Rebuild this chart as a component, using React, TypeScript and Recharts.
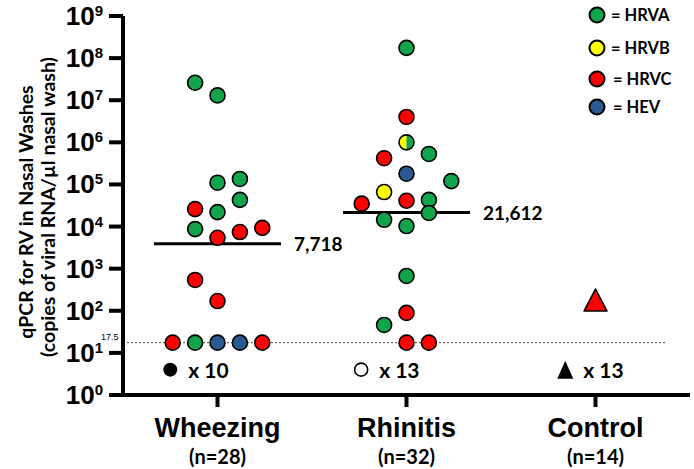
import {
  ReferenceLine,
  Scatter,
  ScatterChart,
  XAxis,
  YAxis,
} from "recharts";

const categories = ["Wheezing", "Rhinitis", "Control"];
const groupSizes = ["(n=28)", "(n=32)", "(n=14)"];

// A = HRVA, B = HRVB, C = HRVC, E = HEV, BA = half HRVB / half HRVA
const wheezingValues = [2.6e7, 1.3e7, 1.1e5, 1.35e5, 4.3e4, 2.6e4, 2.2e4, 8.7e3, 5.4e3, 7.4e3, 9.3e3, 540, 170, 17.5, 17.5, 17.5, 17.5, 17.5];
const wheezingTypes = ["A", "A", "A", "A", "A", "C", "A", "A", "C", "C", "C", "C", "C", "C", "A", "E", "E", "C"];
const wheezingSlots = [-1, 0, 0, 1, 1, -1, 0, -1, 0, 1, 2, -1, 0, -2, -1, 0, 1, 2];

const rhinitisValues = [1.75e8, 4e6, 1e6, 4.2e5, 5.3e5, 1.8e5, 1.2e5, 6.6e4, 3.5e4, 4.1e4, 4.3e4, 2.1e4, 1.45e4, 1.03e4, 670, 89, 46, 17.5, 17.5];
const rhinitisTypes = ["A", "C", "BA", "C", "A", "E", "A", "B", "C", "C", "A", "A", "A", "A", "A", "C", "A", "C", "C"];
const rhinitisSlots = [0, 0, 0, -1, 1, 0, 2, -1, -2, 0, 1, 1, -1, 0, 0, 0, -1, 0, 1];

const controlValues = [180];
const controlTypes = ["C"];
const controlSlots = [0];

const medianValues = [3900, 21612];
const medianLabels = ["7,718", "21,612"];

const undetectedCounts = ["x 10", "x 13", "x 13"];
const undetectedMarkers = ["dot", "ring", "triangle"];
const undetectedOffsets = [-0.25, -0.24, -0.16];
const undetectedLevel = 4;

const detectionLimit = 17.5;
const yTicks = [1, 1e1, 1e2, 1e3, 1e4, 1e5, 1e6, 1e7, 1e8, 1e9];

const legendNames = ["HRVA", "HRVB", "HRVC", "HEV"];
const COLORS: Record<string, string> = {
  A: "#10a54a",
  B: "#ffff00",
  C: "#ff0000",
  E: "#2b5a92",
};
const legendKeys = ["A", "B", "C", "E"];

const SLOT = 0.1185;
const ARIAL = "'Liberation Sans', Arial, sans-serif";
const CALIBRI = "Lato, 'Open Sans', sans-serif";

const toPoints = (group: number, values: number[], types: string[], slots: number[]) =>
  values.map((v, i) => ({ x: group + 0.5 + slots[i] * SLOT, y: v, type: types[i] }));

const points = [
  ...toPoints(0, wheezingValues, wheezingTypes, wheezingSlots),
  ...toPoints(1, rhinitisValues, rhinitisTypes, rhinitisSlots),
];
const controlPoints = toPoints(2, controlValues, controlTypes, controlSlots);

const undetected = undetectedCounts.map((label, i) => ({
  x: i + 0.5 + undetectedOffsets[i],
  y: undetectedLevel,
  label,
  marker: undetectedMarkers[i],
}));

const Dot = (props: any) => {
  const { cx, cy, payload } = props;
  const r = 7.5;
  if (payload.type === "BA") {
    return (
      <g>
        <path d={`M${cx},${cy - r} A${r},${r} 0 0 0 ${cx},${cy + r} Z`} fill={COLORS.B} />
        <path d={`M${cx},${cy - r} A${r},${r} 0 0 1 ${cx},${cy + r} Z`} fill={COLORS.A} />
        <circle cx={cx} cy={cy} r={r} fill="none" stroke="#000" strokeWidth={1.6} />
      </g>
    );
  }
  return <circle cx={cx} cy={cy} r={r} fill={COLORS[payload.type]} stroke="#000" strokeWidth={1.6} />;
};

const Triangle = (props: any) => {
  const { cx, cy, payload } = props;
  const w = 23;
  const h = 22;
  return (
    <polygon
      points={`${cx},${cy - h / 2} ${cx + w / 2},${cy + h / 2} ${cx - w / 2},${cy + h / 2}`}
      fill={COLORS[payload.type]}
      stroke="#000"
      strokeWidth={1.6}
      strokeLinejoin="round"
    />
  );
};

const UndetectedMark = (props: any) => {
  const { cx, cy, payload } = props;
  let mark;
  if (payload.marker === "dot") mark = <circle cx={cx} cy={cy} r={7} fill="#000" />;
  else if (payload.marker === "ring")
    mark = <circle cx={cx} cy={cy} r={6.5} fill="#fff" stroke="#000" strokeWidth={1.6} />;
  else mark = <polygon points={`${cx},${cy - 9} ${cx + 8},${cy + 9} ${cx - 8},${cy + 9}`} fill="#000" />;
  return (
    <g>
      {mark}
      <text x={cx + 18} y={cy} dominantBaseline="central" fontFamily={CALIBRI} fontWeight={700} fontSize={21} fill="#000">
        {payload.label}
      </text>
    </g>
  );
};

const YTick = (props: any) => {
  const { x, y, payload } = props;
  const exp = Math.round(Math.log10(payload.value));
  return (
    <text x={x - 4} y={y + 9} textAnchor="end" fontFamily={ARIAL} fontWeight={700} fontSize={26} fill="#000">
      <tspan>10</tspan>
      <tspan dy={-9} fontSize={15}>{exp}</tspan>
    </text>
  );
};

const XTick = (props: any) => {
  const { x, y, payload } = props;
  const i = Math.floor(payload.value);
  return (
    <g>
      <text x={x} y={y + 28} textAnchor="middle" fontFamily={ARIAL} fontWeight={700} fontSize={27} fill="#000">
        {categories[i]}
      </text>
      <text x={x} y={y + 55} textAnchor="middle" fontFamily={CALIBRI} fontWeight={700} fontSize={20} fill="#000">
        {groupSizes[i]}
      </text>
    </g>
  );
};

const titleStyle = {
  fontFamily: CALIBRI,
  fontWeight: 700,
  fontSize: 19.5,
  fill: "#000",
};

const YTitle = () => (
  <g>
    <text x={25} y={212} transform="rotate(-90 25 212)" textAnchor="middle" dominantBaseline="central" style={titleStyle}>
      qPCR for RV in Nasal Washes
    </text>
    <text x={47} y={207} transform="rotate(-90 47 207)" textAnchor="middle" dominantBaseline="central" style={titleStyle}>
      (copies of viral RNA/µl nasal wash)
    </text>
  </g>
);

const legendY = [15, 48, 79, 107];

export default function App() {
  return (
    <div style={{ position: "absolute", left: 0, top: 0, width: 694, height: 469, background: "#fff" }}>
      <ScatterChart width={694} height={469} margin={{ top: 16, right: 4, left: 0, bottom: 0 }}>
        <XAxis
          type="number"
          dataKey="x"
          domain={[0, 3]}
          ticks={[0.5, 1.5, 2.5]}
          tick={<XTick />}
          tickSize={12}
          height={74}
          axisLine={{ stroke: "#000", strokeWidth: 4 }}
          tickLine={{ stroke: "#000", strokeWidth: 4 }}
        />
        <YAxis
          type="number"
          dataKey="y"
          scale="log"
          domain={[1, 1e9]}
          ticks={yTicks}
          allowDataOverflow
          tick={<YTick />}
          tickSize={14}
          width={123}
          interval={0}
          axisLine={{ stroke: "#000", strokeWidth: 4 }}
          tickLine={{ stroke: "#000", strokeWidth: 4 }}
          label={<YTitle />}
        />
        <ReferenceLine
          segment={[
            { x: 0, y: detectionLimit },
            { x: 2.873, y: detectionLimit },
          ]}
          stroke="#444"
          strokeWidth={1}
          strokeDasharray="2 2"
          label={(p: any) => (
            <text x={p.viewBox.x - 22} y={p.viewBox.y - 3} fontFamily={ARIAL} fontSize={9} fill="#000">
              17.5
            </text>
          )}
        />
        {medianValues.map((m, i) => (
          <ReferenceLine
            key={`median-${i}`}
            segment={[
              { x: i + 0.5 - 0.336, y: m },
              { x: i + 0.5 + 0.336, y: m },
            ]}
            stroke="#000"
            strokeWidth={3}
            label={(p: any) => (
              <text
                x={p.viewBox.x + p.viewBox.width + 13}
                y={p.viewBox.y + p.viewBox.height / 2}
                dominantBaseline="central"
                fontFamily={CALIBRI}
                fontWeight={700}
                fontSize={19}
                fill="#000"
              >
                {medianLabels[i]}
              </text>
            )}
          />
        ))}
        <Scatter data={points} shape={<Dot />} isAnimationActive={false} />
        <Scatter data={controlPoints} shape={<Triangle />} isAnimationActive={false} />
        <Scatter data={undetected} shape={<UndetectedMark />} isAnimationActive={false} />
      </ScatterChart>
      {legendNames.map((name, i) => (
        <div
          key={name}
          style={{
            position: "absolute",
            left: 588,
            top: legendY[i] - 9,
            height: 18,
            display: "flex",
            alignItems: "center",
            fontFamily: CALIBRI,
            fontWeight: 700,
            fontSize: 16.5,
            color: "#000",
            whiteSpace: "nowrap",
          }}
        >
          <svg width={18} height={18} style={{ display: "block" }}>
            <circle cx={9} cy={9} r={7.5} fill={COLORS[legendKeys[i]]} stroke="#000" strokeWidth={2} />
          </svg>
          <span style={{ marginLeft: i < 2 ? 5 : 7 }}>= {name}</span>
        </div>
      ))}
    </div>
  );
}
